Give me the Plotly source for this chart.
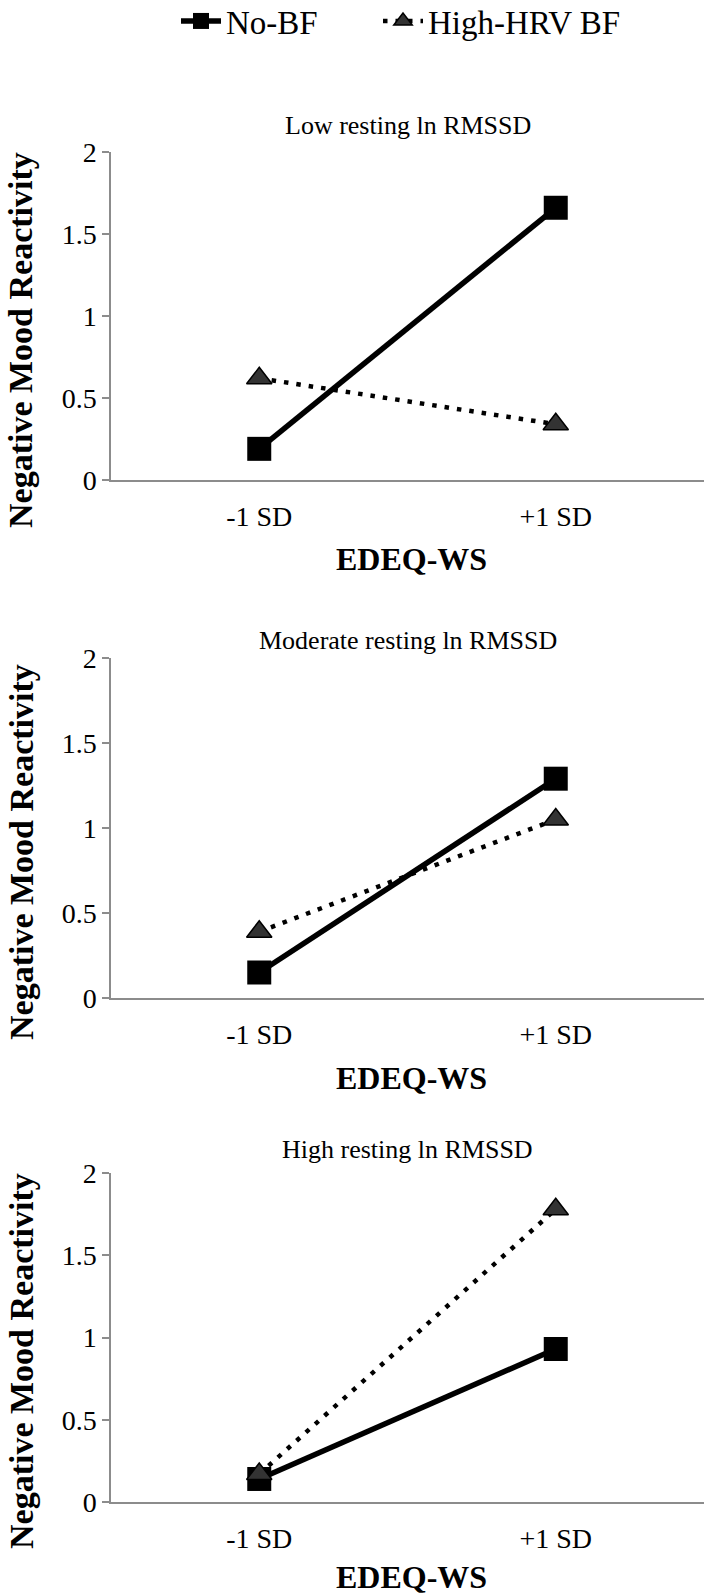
import plotly.graph_objects as go

# ---- data ----
categories = ["-1 SD", "+1 SD"]
panel_titles = ["Low resting ln RMSSD", "Moderate resting ln RMSSD", "High resting ln RMSSD"]
series_names = ["No-BF", "High-HRV BF"]
no_bf_low = [0.19, 1.66]
hrv_bf_low = [0.62, 0.34]
no_bf_mod = [0.15, 1.29]
hrv_bf_mod = [0.39, 1.05]
no_bf_high = [0.14, 0.93]
hrv_bf_high = [0.17, 1.78]
y_tick_vals = [0, 0.5, 1, 1.5, 2]
y_tick_text = ["0", "0.5", "1", "1.5", "2"]
x_title = "EDEQ-WS"
y_title = "Negative Mood Reactivity"

no_bf = [no_bf_low, no_bf_mod, no_bf_high]
hrv_bf = [hrv_bf_low, hrv_bf_mod, hrv_bf_high]

W, H = 704, 1596
FONT = "Liberation Serif"


def py(px):
    return 1 - px / H


# plot-area pixel extents (top, bottom) for each panel
panel_px = [(152, 480), (658, 998), (1173, 1502)]
title_px = [125, 641, 1149]
xtitle_px = [559, 1078, 1577]
ytitle_px = [340, 852, 1361]

fig = go.Figure()

for i in range(3):
    xa = "x" if i == 0 else f"x{i+1}"
    ya = "y" if i == 0 else f"y{i+1}"
    fig.add_trace(go.Scatter(
        x=categories, y=no_bf[i], xaxis=xa, yaxis=ya,
        mode="lines+markers", name=series_names[0],
        line=dict(color="black", width=5.5),
        marker=dict(symbol="square", size=24, color="black"),
        showlegend=(i == 0), legend="legend",
    ))
    fig.add_trace(go.Scatter(
        x=categories, y=hrv_bf[i], xaxis=xa, yaxis=ya,
        mode="lines+markers", name=series_names[1],
        line=dict(color="black", width=4.5, dash="4.5px,8px"),
        marker=dict(symbol="triangle-up", size=22, color="#333333",
                    line=dict(color="black", width=1.5)),
        showlegend=(i == 0), legend="legend2",
    ))

legend_common = dict(orientation="h", xref="container", yref="container",
                     yanchor="middle", xanchor="left", itemwidth=40,
                     font=dict(size=33, family=FONT, color="black"))

layout = dict(
    width=W, height=H,
    margin=dict(l=111, r=0, t=0, b=0, autoexpand=False),
    paper_bgcolor="white", plot_bgcolor="white",
    font=dict(family=FONT, color="black", size=28),
    showlegend=True,
    legend=dict(x=176 / W, y=py(21), **legend_common),
    legend2=dict(x=378 / W, y=py(21), **legend_common),
)

annotations = []
for i in range(3):
    top, bot = panel_px[i]
    xk = "xaxis" if i == 0 else f"xaxis{i+1}"
    yk = "yaxis" if i == 0 else f"yaxis{i+1}"
    ya = "y" if i == 0 else f"y{i+1}"
    layout[xk] = dict(
        domain=[0, 1], anchor=ya, type="category", range=[-0.5, 1.5],
        showline=True, linecolor="#8c8c8c", linewidth=1.5,
        showgrid=False, zeroline=False, ticks="",
        ticklabelstandoff=11,
        tickfont=dict(size=28, family=FONT, color="black"),
    )
    layout[yk] = dict(
        domain=[py(bot), py(top)], anchor="x" if i == 0 else f"x{i+1}",
        range=[0, 2], tickvals=y_tick_vals, ticktext=y_tick_text,
        showline=True, linecolor="#8c8c8c", linewidth=1.5,
        ticks="outside", ticklen=7, tickcolor="#8c8c8c", tickwidth=1.5,
        showgrid=False, zeroline=False,
        tickfont=dict(size=28, family=FONT, color="black"),
    )
    annotations.append(dict(
        text=panel_titles[i], xref="paper", yref="paper",
        x=0.5, y=py(title_px[i]), xanchor="center", yanchor="middle",
        showarrow=False, font=dict(size=26, family=FONT, color="black"),
    ))
    annotations.append(dict(
        text="<b>" + x_title + "</b>", xref="paper", yref="paper",
        x=0.506, y=py(xtitle_px[i]), xanchor="center", yanchor="middle",
        showarrow=False, font=dict(size=32, family=FONT, color="black"),
    ))
    annotations.append(dict(
        text="<b>" + y_title + "</b>", xref="paper", yref="paper",
        x=(21 - 111) / (W - 111), y=py(ytitle_px[i]), xanchor="center", yanchor="middle",
        textangle=-90,
        showarrow=False, font=dict(size=34, family=FONT, color="black"),
    ))
layout["annotations"] = annotations

fig.update_layout(**layout)
fig.write_html("out.html", config={"displayModeBar": False},
               post_script="document.body.style.margin='0px';document.body.style.overflow='hidden';")
